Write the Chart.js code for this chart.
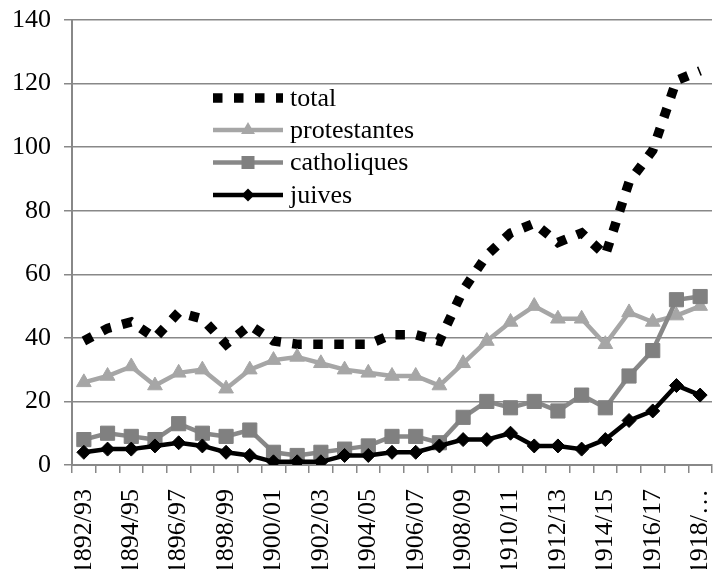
<!DOCTYPE html>
<html>
<head>
<meta charset="utf-8">
<script src="https://cdn.jsdelivr.net/npm/chart.js@4/dist/chart.umd.min.js"></script>
<style>
  html, body { margin: 0; padding: 0; background: #fff; }
  #wrap { width: 723px; height: 569px; position: relative; }
</style>
</head>
<body>
<div id="wrap"><canvas id="c" width="723" height="569"></canvas></div>
<script>
const categories = ["1892/93","1893/94","1894/95","1895/96","1896/97","1897/98","1898/99","1899/00","1900/01","1901/02","1902/03","1903/04","1904/05","1905/06","1906/07","1907/08","1908/09","1909/10","1910/11","1911/12","1912/13","1913/14","1914/15","1915/16","1916/17","1917/18","1918/19"];
const total        = [39,43,45,40,48,46,38,44,39,38,38,38,38,41,41,39,55,66,73,76,70,73,66,89,99,121,124];
const protestantes = [26,28,31,25,29,30,24,30,33,34,32,30,29,28,28,25,32,39,45,50,46,46,38,48,45,47,50];
const catholiques  = [8,10,9,8,13,10,9,11,4,3,4,5,6,9,9,7,15,20,18,20,17,22,18,28,36,52,53];
const juives       = [4,5,5,6,7,6,4,3,1,1,1,3,3,4,4,6,8,8,10,6,6,5,8,14,17,25,22];
const yTicks = [0,20,40,60,80,100,120,140];

const FONT = "'Liberation Serif', 'Times New Roman', serif";

const legendPlugin = {
  id: 'insideLegend',
  afterDraw(chart) {
    const ctx = chart.ctx;
    const x0 = 213, x1 = 283, tx = 290;
    const rows = [98, 130, 162.5, 195];
    const sets = chart.data.datasets;
    ctx.save();
    sets.forEach((ds, i) => {
      const y = rows[i];
      ctx.beginPath();
      ctx.strokeStyle = ds.borderColor;
      ctx.lineWidth = ds.borderWidth;
      ctx.lineCap = 'butt';
      ctx.setLineDash(ds.borderDash || []);
      ctx.moveTo(x0, y);
      ctx.lineTo(x1, y);
      ctx.stroke();
      ctx.setLineDash([]);
      const cx = (x0 + x1) / 2;
      ctx.fillStyle = ds.pointBackgroundColor || ds.borderColor;
      if (ds.pointStyle === 'triangle') {
        const r = 8;
        ctx.beginPath();
        ctx.moveTo(cx, y - r);
        ctx.lineTo(cx + r * 0.866, y + r * 0.5);
        ctx.lineTo(cx - r * 0.866, y + r * 0.5);
        ctx.closePath(); ctx.fill();
      } else if (ds.pointStyle === 'rect') {
        const s = 6.5;
        ctx.fillRect(cx - s, y - s, 2 * s, 2 * s);
      } else if (ds.pointStyle === 'rectRot') {
        const r = 6.5;
        ctx.beginPath();
        ctx.moveTo(cx, y - r); ctx.lineTo(cx + r, y); ctx.lineTo(cx, y + r); ctx.lineTo(cx - r, y);
        ctx.closePath(); ctx.fill();
      }
      ctx.fillStyle = '#000';
      ctx.font = "26px " + FONT;
      ctx.textBaseline = 'middle';
      ctx.textAlign = 'left';
      ctx.fillText(ds.label, tx, y + 1);
    });
    ctx.restore();
  }
};

new Chart(document.getElementById('c'), {
  type: 'line',
  data: {
    labels: categories,
    datasets: [
      { label: 'total', data: total, borderColor: '#000', borderWidth: 9.5, borderDash: [9.5, 11.5],
        borderCapStyle: 'butt', pointRadius: 0, order: 4, tension: 0 },
      { label: 'protestantes', data: protestantes, borderColor: '#a6a6a6', borderWidth: 4.5,
        pointStyle: 'triangle', pointRadius: 8.5, pointBackgroundColor: '#a6a6a6', pointBorderColor: '#a6a6a6',
        pointBorderWidth: 1, order: 3, tension: 0 },
      { label: 'catholiques', data: catholiques, borderColor: '#888888', borderWidth: 4.5,
        pointStyle: 'rect', pointRadius: 10, pointBackgroundColor: '#808080', pointBorderColor: '#808080',
        pointBorderWidth: 1, order: 2, tension: 0 },
      { label: 'juives', data: juives, borderColor: '#000', borderWidth: 4.5,
        pointStyle: 'rectRot', pointRadius: 7, pointBackgroundColor: '#000', pointBorderColor: '#000',
        pointBorderWidth: 1, order: 1, tension: 0 }
    ]
  },
  options: {
    responsive: false,
    animation: false,
    layout: { padding: { top: 20, right: 3, left: 0, bottom: 0 } },
    plugins: { legend: { display: false }, tooltip: { enabled: false } },
    scales: {
      x: {
        offset: true,
        grid: { display: true, drawOnChartArea: false, drawTicks: true, tickLength: 8, offset: true,
                color: '#888', lineWidth: 1.5 },
        border: { color: '#888', width: 2 },
        ticks: {
          autoSkip: false, minRotation: 90, maxRotation: 90, padding: 16, color: '#000',
          font: { family: FONT, size: 26 },
          callback: function(v, i) {
            if (i % 2 !== 0) return '';
            const l = categories[i];
            return i === categories.length - 1 ? l.slice(0, 5) + '…' : l;
          }
        },
        afterFit(scale) { scale.height = 104; scale.paddingLeft = 0; scale.paddingRight = 0; }
      },
      y: {
        min: 0, max: 140,
        afterBuildTicks(scale) { scale.ticks = yTicks.map(v => ({ value: v })); },
        grid: { color: '#888', lineWidth: 1.5, tickLength: 8 },
        border: { color: '#888', width: 2 },
        ticks: { padding: 13, color: '#000', font: { family: FONT, size: 26 } },
        afterFit(scale) { scale.width = 72; scale.paddingTop = 0; scale.paddingBottom = 0; }
      }
    }
  },
  plugins: [legendPlugin]
});
</script>
</body>
</html>
